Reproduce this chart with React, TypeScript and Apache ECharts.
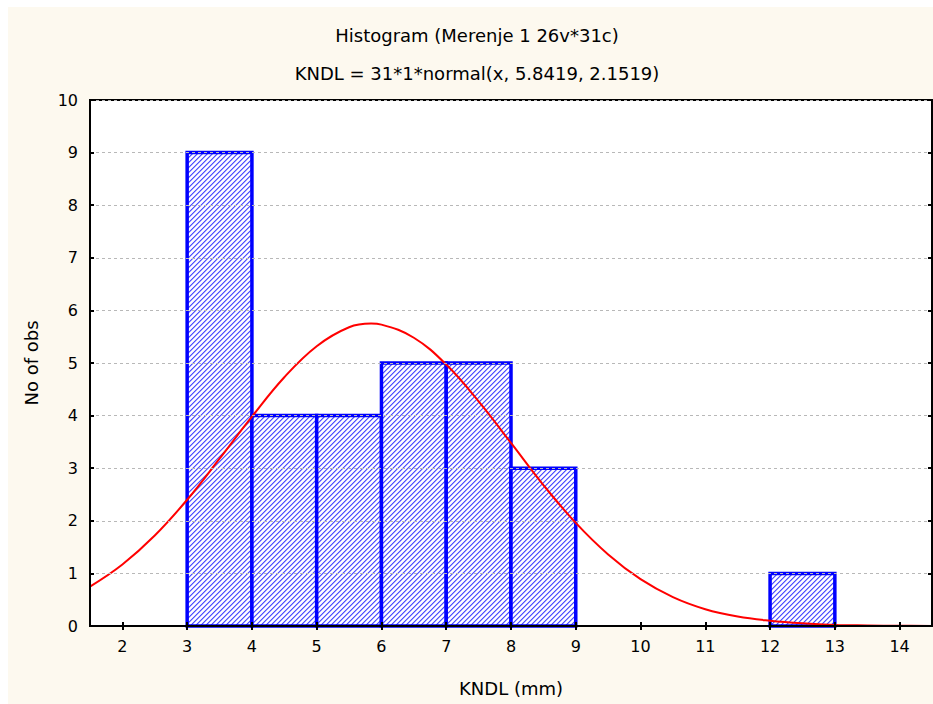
import React, { useEffect, useRef } from "react";
import * as echarts from "echarts";

const titleText = "Histogram (Merenje 1 26v*31c)";
const subtitleText = "KNDL = 31*1*normal(x, 5.8419, 2.1519)";
const xAxisName = "KNDL (mm)";
const yAxisName = "No of obs";

const binStarts = [3, 4, 5, 6, 7, 8, 12];
const binEnds = [4, 5, 6, 7, 8, 9, 13];
const binCounts = [9, 4, 4, 5, 5, 3, 1];

const xTickValues = [2, 3, 4, 5, 6, 7, 8, 9, 10, 11, 12, 13, 14];

const curveX = [1.5, 2, 2.5, 3, 3.5, 4, 4.5, 5, 5.5, 5.84, 6, 6.5, 7, 7.5, 8, 8.5, 9, 9.5, 10, 10.5, 11, 11.5, 12, 12.5, 13, 13.5, 14, 14.5];
const curveY = [0.75, 1.17, 1.72, 2.4, 3.18, 3.98, 4.73, 5.32, 5.68, 5.75, 5.73, 5.48, 4.97, 4.27, 3.48, 2.68, 1.96, 1.36, 0.89, 0.55, 0.32, 0.18, 0.1, 0.05, 0.02, 0.01, 0.004, 0.002];

const xMin = 1.5;
const xMax = 14.5;
const yMin = 0;
const yMax = 10;

function makeHatch(): string {
  const size = 5;
  const c = document.createElement("canvas");
  c.width = size;
  c.height = size;
  const ctx = c.getContext("2d");
  if (!ctx) return "";
  const img = ctx.createImageData(size, size);
  for (let y = 0; y < size; y++) {
    for (let x = 0; x < size; x++) {
      const k = (x + y) % size;
      let r = 255, g = 255, b = 255;
      if (k === 0) { r = 80; g = 80; b = 255; }
      else if (k === 1) { r = 165; g = 165; b = 255; }
      else if (k === 4) { r = 225; g = 225; b = 255; }
      const i = (y * size + x) * 4;
      img.data[i] = r; img.data[i + 1] = g; img.data[i + 2] = b; img.data[i + 3] = 255;
    }
  }
  ctx.putImageData(img, 0, 0);
  return c.toDataURL("image/png");
}

export default function App() {
  const ref = useRef<HTMLDivElement>(null);
  useEffect(() => {
    if (!ref.current) return;
    const chart = echarts.init(ref.current, undefined, { renderer: "svg" });
    const hatch = makeHatch();
    const font = "DejaVu Sans";
    const binData = binStarts.map((s, i) => [s, binEnds[i], binCounts[i]]);
    const curveData = curveX.map((x, i) => [x, curveY[i]]);
    const tickStyle = { color: "#000", width: 2 };
    chart.setOption({
      animation: false,
      backgroundColor: "#ffffff",
      graphic: [
        { type: "rect", z: -10, silent: true, shape: { x: 8, y: 7, width: 925, height: 697 }, style: { fill: "#fdf9ef" } },
        { type: "text", x: 477, y: 35, style: { text: titleText, font: `18px '${font}'`, fill: "#000", align: "center", verticalAlign: "middle" } },
        { type: "text", x: 477, y: 73, style: { text: subtitleText, font: `18px '${font}'`, fill: "#000", align: "center", verticalAlign: "middle" } },
        { type: "text", x: 511, y: 688, style: { text: xAxisName, font: `18px '${font}'`, fill: "#000", align: "center", verticalAlign: "middle" } },
        { type: "text", x: 31, y: 363, rotation: Math.PI / 2, style: { text: yAxisName, font: `18px '${font}'`, fill: "#000", align: "center", verticalAlign: "middle" } },
      ],
      grid: { left: 90, top: 100, right: 1, bottom: 78, show: true, backgroundColor: "#ffffff", borderColor: "#000", borderWidth: 2 },
      xAxis: [
        {
          type: "value", min: xMin, max: xMax, position: "bottom", z: 10,
          axisLine: { show: true, onZero: false, lineStyle: { color: "#000", width: 2 } },
          axisTick: { show: true, inside: true, length: 4, lineStyle: tickStyle, customValues: xTickValues },
          axisLabel: { show: true, margin: 12, color: "#000", fontFamily: font, fontSize: 16, customValues: xTickValues },
          splitLine: { show: false },
        },
        {
          type: "value", min: xMin, max: xMax, position: "top", z: 10,
          axisLine: { show: false },
          axisTick: { show: true, inside: true, length: 4, lineStyle: tickStyle, customValues: xTickValues },
          axisLabel: { show: false },
          splitLine: { show: false },
        },
      ],
      yAxis: [
        {
          type: "value", min: yMin, max: yMax, interval: 1, position: "left", z: 10,
          axisLine: { show: true, lineStyle: { color: "#000", width: 2 } },
          axisTick: { show: true, inside: true, length: 4, lineStyle: tickStyle },
          axisLabel: { show: true, margin: 12, color: "#000", fontFamily: font, fontSize: 16 },
          splitLine: { show: true, lineStyle: { color: "#b8b8b8", width: 1, type: [3, 3] } },
        },
        {
          type: "value", min: yMin, max: yMax, interval: 1, position: "right", z: 10,
          axisLine: { show: false },
          axisTick: { show: true, inside: true, length: 4, lineStyle: tickStyle },
          axisLabel: { show: false },
          splitLine: { show: false },
        },
      ],
      series: [
        {
          type: "custom",
          xAxisIndex: 0,
          yAxisIndex: 0,
          z: 3,
          data: binData,
          encode: { x: [0, 1], y: 2 },
          renderItem: (params: any, api: any) => {
            const x0 = api.value(0);
            const x1 = api.value(1);
            const h = api.value(2);
            const p0 = api.coord([x0, h]);
            const p1 = api.coord([x1, 0]);
            return {
              type: "rect",
              shape: { x: p0[0], y: p0[1], width: p1[0] - p0[0], height: p1[1] - p0[1] },
              style: { fill: { image: hatch, repeat: "repeat" }, stroke: "#0000ff", lineWidth: 3.5 },
            };
          },
        },
        {
          type: "line",
          xAxisIndex: 0,
          yAxisIndex: 0,
          z: 5,
          data: curveData,
          smooth: 0.4,
          showSymbol: false,
          symbol: "none",
          clip: true,
          lineStyle: { color: "#ff0000", width: 2 },
        },
      ],
    });
    return () => chart.dispose();
  }, []);
  return <div ref={ref} style={{ position: "fixed", left: 0, top: 0, width: 933, height: 704 }} />;
}
